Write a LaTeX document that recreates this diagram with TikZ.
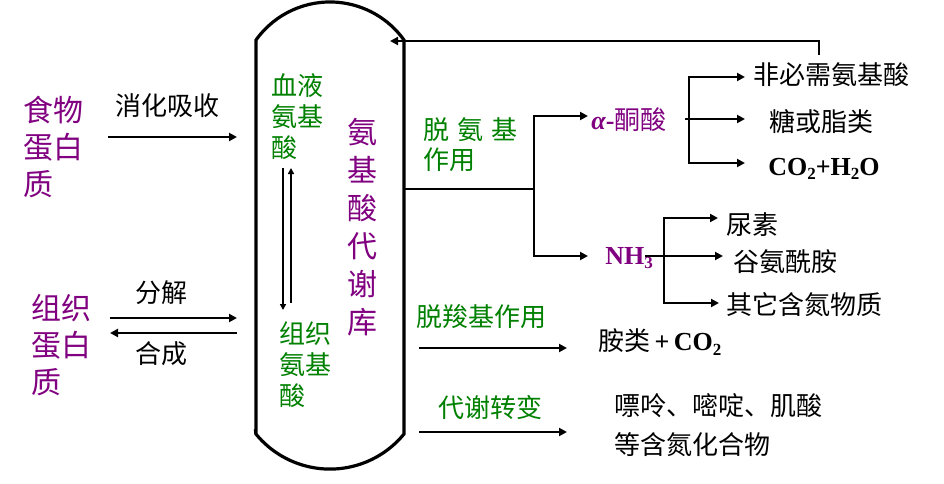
\documentclass[tikz,border=0pt]{standalone}
\usepackage{fontspec}
\setmainfont{Liberation Serif}
\newfontfamily\cjk{Noto Sans CJK SC}
\usetikzlibrary{arrows.meta}
\definecolor{zizi}{RGB}{128,0,128}
\definecolor{lvse}{RGB}{0,128,0}
\newcommand\xb[1]{\raisebox{-0.35ex}{\fontsize{17}{17}\selectfont #1}}

\begin{document}
\begin{tikzpicture}[x=1pt,y=-1pt,
			line width=2.8pt,
			>={Triangle[length=8pt,width=8pt]},
			zi/.style={inner sep=0pt, font=\cjk\fontsize{26}{31}\selectfont},
			da/.style={inner sep=0pt, font=\cjk\fontsize{30}{37}\selectfont, text=zizi, align=left},
			lv/.style={zi, text=lvse, align=left},
			hei/.style={zi, text=black},
			xi/.style={line width=2pt, -{Triangle[length=6pt,width=6pt]}}
			]
			\useasboundingbox (0,0) rectangle (944,484);
			% amino acid pool
			\draw[line width=3.2pt] (256,435) coordinate (kl) -- (256,40)
			arc[start angle=215.6, end angle=324.4, radius=91] coordinate (kt)
			-- (404,434) coordinate (kr)
			arc[start angle=39.3, end angle=140.7, radius=95.7] -- cycle;
			\node[da, anchor=west] (shiwu) at (22,147) {食物\\蛋白\\质};
			\node[da, anchor=west] (zuzhi) at (30,345) {组织\\蛋白\\质};
			\node[hei] (xiaohua) at (167,106) {消化吸收};
			\node[hei] (fenjie) at (161,293) {分解};
			\node[hei] (hecheng) at (161,354) {合成};
			\node[lv, anchor=west] (xueye) at (270,117) {血液\\氨基\\酸};
			\node[lv, anchor=west] (zzaj) at (278,365) {组织\\氨基\\酸};
			\node[da, align=center, font=\cjk\fontsize{30}{38}\selectfont] (ku) at (362,227) {氨\\基\\酸\\代\\谢\\库};
			\draw[->] (108,137) coordinate (xh0) -- (237,137) coordinate (xh1);
			\draw[->] (110,318) coordinate (fj0) -- (237,318) coordinate (fj1);
			\draw[->] (237,333) coordinate (hc0) -- (110,333) coordinate (hc1);
			\draw[xi] (291,303) -- (291,168);
			\draw[xi] (283,168) -- (283,310);
			% deamination
			\node[lv, anchor=west, font=\cjk\fontsize{26}{30}\selectfont] (tuoan) at (422,145) {脱\hspace{0.3em}氨\hspace{0.3em}基\\作用};
			\node[zi, anchor=west, text=zizi] (tongsuan) at (590,120) {\rmfamily\bfseries\itshape α\upshape-\mdseries\cjk 酮酸};
			\node[zi, anchor=west, text=zizi, font=\rmfamily\bfseries\fontsize{26}{30}\selectfont] (nh3) at (604,258) {NH\xb{3}};
			\node[hei, anchor=west] (feibi) at (752,75) {非必需氨基酸};
			\node[hei, anchor=west] (tang) at (768,122) {糖或脂类};
			\node[hei, anchor=west, font=\rmfamily\bfseries\fontsize{26}{30}\selectfont] (co2h2o) at (767,169) {CO\xb{2}+H\xb{2}O};
			\node[hei, anchor=west] (niaosu) at (725,225) {尿素};
			\node[hei, anchor=west] (gu) at (732,262) {谷氨酰胺};
			\node[hei, anchor=west] (qita) at (725,305) {其它含氮物质};
			\draw (404,189) coordinate (gan) -- (534,189) coordinate (fen);
			\draw[<->] (588,116) -| (fen) |- (588,256);
			\draw[<->] (745,77) -| (689,163) -- (745,163);
			\draw[->] (685,119) -- (745,119);
			\draw[<->] (718,218) -| (664,303) -- (719,303);
			\draw[->] (645,256) -- (723,256);
			\draw[->] (819,55) coordinate (fk) |- (390,41);
			% decarboxylation and others
			\node[lv, anchor=west] (tuosuo) at (415,317) {脱羧基作用};
			\node[hei, anchor=west] (anlei) at (597,342) {胺类{\rmfamily\bfseries\,+\,CO\xb{2}}};
			\node[lv, anchor=west] (daixie) at (437,408) {代谢转变};
			\node[hei, anchor=west, align=left, font=\cjk\fontsize{26}{39}\selectfont] (piaoling) at (613,425) {嘌呤、嘧啶、肌酸\\等含氮化合物};
			\draw[->] (419,348) -- (567,348);
			\draw[->] (419,432) -- (567,432);
			\end{tikzpicture}
\end{document}
